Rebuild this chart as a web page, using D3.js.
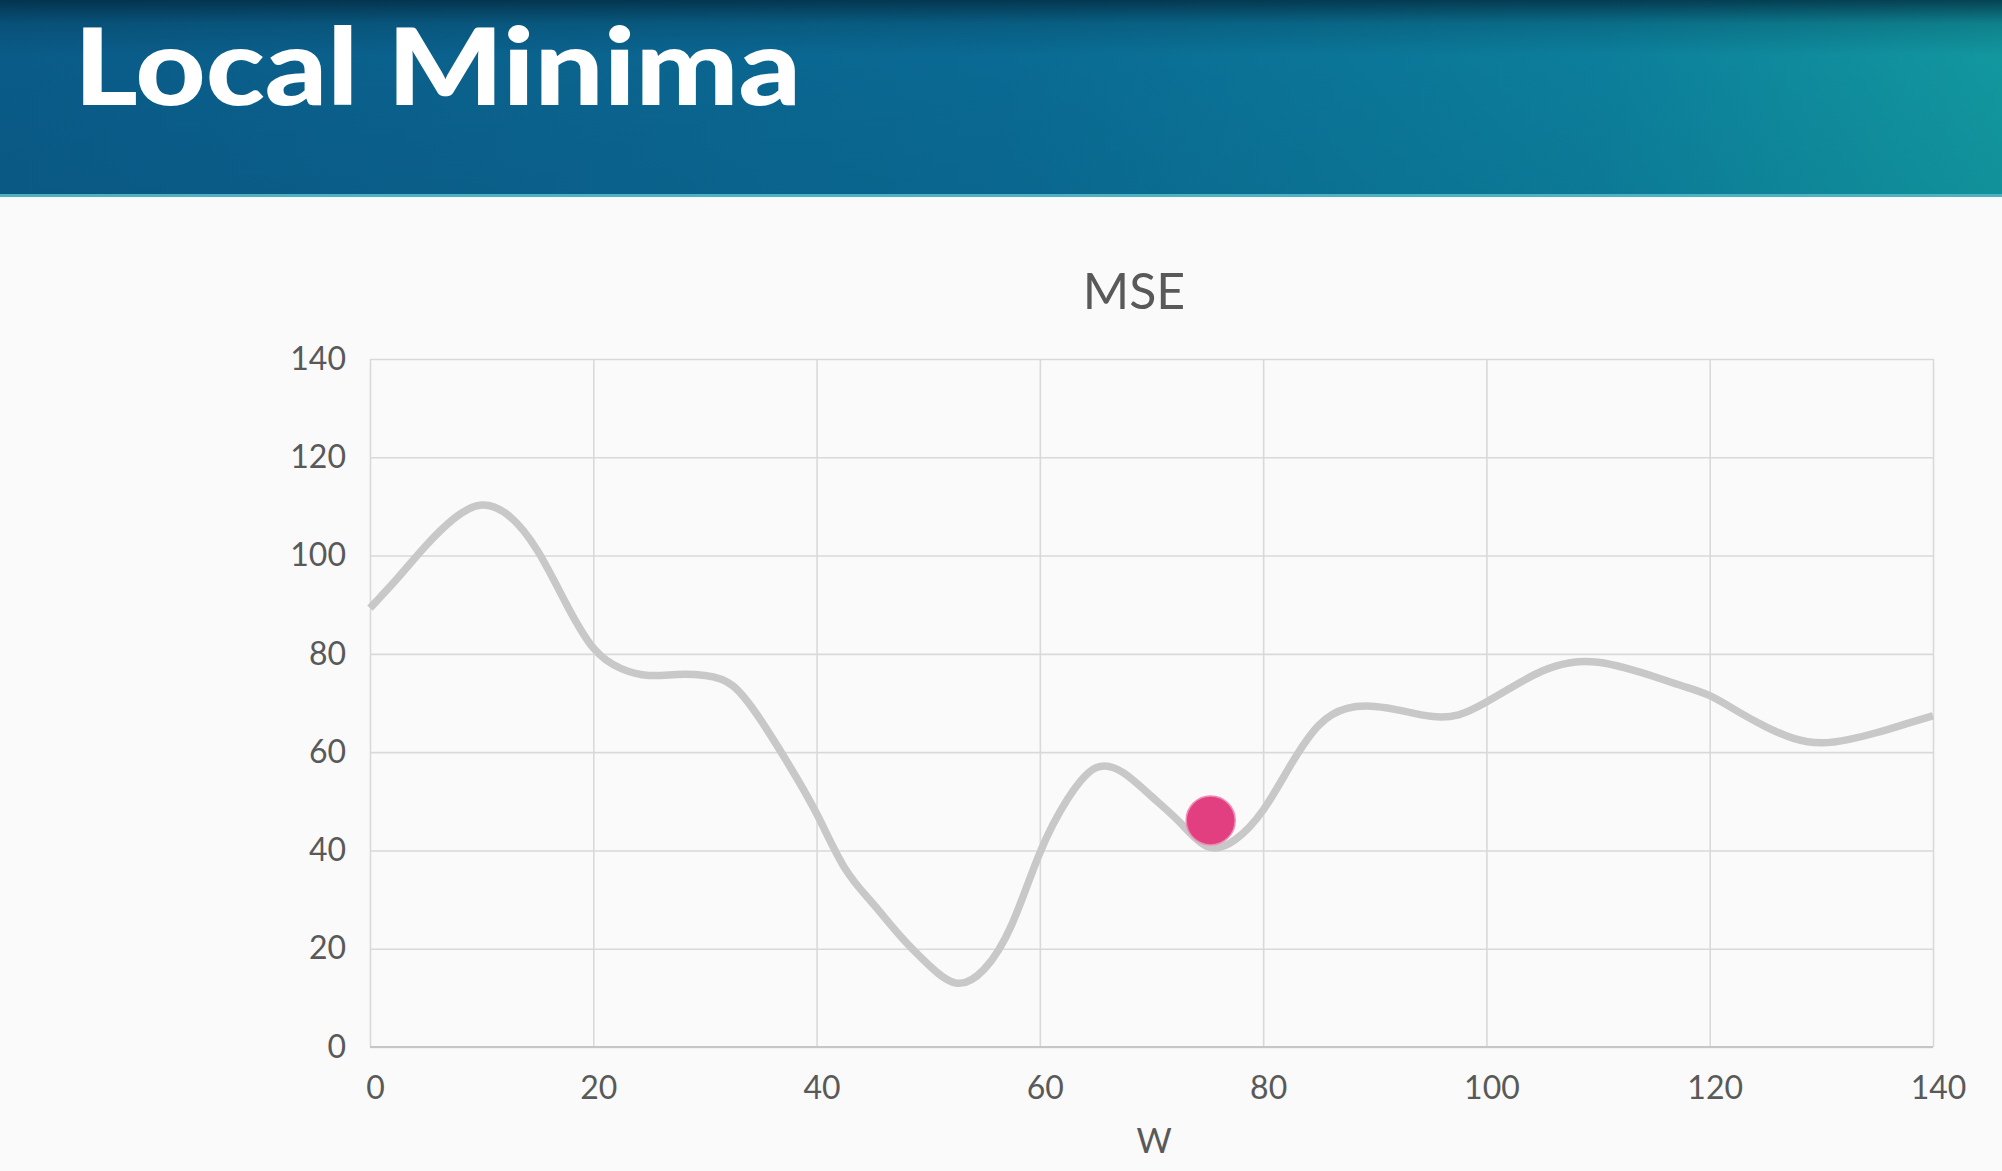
<!DOCTYPE html>
<html>
<head>
<meta charset="utf-8">
<script src="https://cdn.jsdelivr.net/npm/d3@7/dist/d3.min.js"></script>
<style>
  html, body { margin: 0; padding: 0; background: #fafafa; }
  svg { display: block; }
</style>
</head>
<body>
<svg id="chart" width="2002" height="1171"></svg>
<script>
// ---- data ----
const pageTitle = "Local Minima";
const chartTitle = "MSE";
const xAxisTitle = "W";
const wValues = [0, 2.5, 5, 7.5, 10, 12.5, 15, 17.5, 20, 22.5, 25, 27.5, 30, 32.5, 35, 37.5, 40, 42.5, 45, 47.5, 50, 52.5, 55, 57.5, 60, 62.5, 65, 67.5, 70, 72.5, 75, 77.5, 80, 82.5, 85, 87.5, 90, 92.5, 95, 97.5, 100, 102.5, 105, 107.5, 110, 112.5, 115, 117.5, 120, 122.5, 125, 127.5, 130, 132.5, 135, 137.5, 140];
const mseValues = [89.3, 95.5, 102, 107.5, 110.3, 108, 101, 90.5, 81.2, 77, 75.6, 75.8, 75.6, 73.5, 66.5, 57.5, 47.5, 36.5, 29.3, 22.6, 16.8, 13, 15.8, 25, 39.5, 50.5, 56.8, 55.8, 51, 45.8, 40.8, 42.2, 48.2, 57.5, 65.5, 68.9, 69.3, 68.4, 67.3, 67.6, 70.2, 73.5, 76.5, 78.2, 78.3, 77.1, 75.4, 73.5, 71.5, 68.3, 65.2, 62.8, 61.9, 62.6, 64, 65.7, 67.4];
const ballW = [75.3];
const ballMSE = [46.1];
const xTicks = [0, 20, 40, 60, 80, 100, 120, 140];
const yTicks = [0, 20, 40, 60, 80, 100, 120, 140];

// ---- layout ----
const svg = d3.select("#chart");
const W = 2002, H = 1171;
const plot = { left: 370, right: 1933, top: 359, bottom: 1047 };

const defs = svg.append("defs");
const hg = defs.append("linearGradient").attr("id", "hdr").attr("x1", "0").attr("x2", "1").attr("y1", "0").attr("y2", "0");
hg.append("stop").attr("offset", "0%").attr("stop-color", "#0a5b88");
hg.append("stop").attr("offset", "50%").attr("stop-color", "#0a6a93");
hg.append("stop").attr("offset", "80%").attr("stop-color", "#0c7e9b");
hg.append("stop").attr("offset", "100%").attr("stop-color", "#12979f");
const vg = defs.append("linearGradient").attr("id", "hdrTop").attr("x1", "0").attr("x2", "0").attr("y1", "0").attr("y2", "1");
vg.append("stop").attr("offset", "0%").attr("stop-color", "#02263a").attr("stop-opacity", 0.75);
vg.append("stop").attr("offset", "12%").attr("stop-color", "#02263a").attr("stop-opacity", 0.2);
vg.append("stop").attr("offset", "28%").attr("stop-color", "#02263a").attr("stop-opacity", 0);
vg.append("stop").attr("offset", "100%").attr("stop-color", "#02263a").attr("stop-opacity", 0.05);

svg.append("rect").attr("x", 0).attr("y", 0).attr("width", W).attr("height", H).attr("fill", "#fafafa");
svg.append("rect").attr("x", 0).attr("y", 0).attr("width", W).attr("height", 196).attr("fill", "url(#hdr)");
svg.append("rect").attr("x", 0).attr("y", 0).attr("width", W).attr("height", 196).attr("fill", "url(#hdrTop)");
svg.append("rect").attr("x", 0).attr("y", 194).attr("width", W).attr("height", 3).attr("fill", "#4db3c2");

svg.append("text")
  .attr("x", 74).attr("y", 105)
  .attr("font-family", "Lato, 'Open Sans', sans-serif")
  .attr("font-weight", 900)
  .attr("font-size", 106)
  .attr("textLength", 727)
  .attr("lengthAdjust", "spacingAndGlyphs")
  .attr("fill", "#ffffff")
  .text(pageTitle);

// ---- scales ----
const x = d3.scaleLinear().domain([0, 140]).range([plot.left, plot.right]);
const y = d3.scaleLinear().domain([0, 140]).range([plot.bottom, plot.top]);

const textColor = "#595959";
const fontFam = "Lato, 'Open Sans', sans-serif";

// gridlines
const gx = svg.append("g").attr("transform", `translate(0,${plot.bottom})`)
  .call(d3.axisBottom(x).tickValues(xTicks).tickSize(-(plot.bottom - plot.top)).tickFormat(""));
gx.select(".domain").remove();
gx.selectAll("line").attr("stroke", "#d9d9d9").attr("stroke-width", 1.6);

const gy = svg.append("g").attr("transform", `translate(${plot.left},0)`)
  .call(d3.axisLeft(y).tickValues(yTicks).tickSize(-(plot.right - plot.left)).tickFormat(""));
gy.select(".domain").remove();
gy.selectAll("line").attr("stroke", "#d9d9d9").attr("stroke-width", 1.6);

// bottom axis line
svg.append("line").attr("x1", plot.left).attr("x2", plot.right).attr("y1", plot.bottom).attr("y2", plot.bottom)
  .attr("stroke", "#c6c6c6").attr("stroke-width", 2);

// tick labels
const xl = svg.append("g").attr("transform", `translate(5,${plot.bottom})`)
  .call(d3.axisBottom(x).tickValues(xTicks).tickSize(0).tickPadding(29).tickFormat(d3.format("d")));
xl.select(".domain").remove();
xl.selectAll("text").attr("font-family", fontFam).attr("font-size", 32).attr("fill", textColor);

const yl = svg.append("g").attr("transform", `translate(${plot.left},0)`)
  .call(d3.axisLeft(y).tickValues(yTicks).tickSize(0).tickPadding(24).tickFormat(d3.format("d")));
yl.select(".domain").remove();
yl.selectAll("text").attr("font-family", fontFam).attr("font-size", 32).attr("fill", textColor);

// titles
svg.append("text").attr("x", 1134).attr("y", 309).attr("text-anchor", "middle")
  .attr("font-family", fontFam).attr("font-size", 50).attr("fill", textColor).text(chartTitle);
svg.append("text").attr("x", 1154).attr("y", 1153).attr("text-anchor", "middle")
  .attr("font-family", fontFam).attr("font-size", 34).attr("fill", textColor).text(xAxisTitle);

// curve
const pts = wValues.map((w, i) => [w, mseValues[i]]);
const line = d3.line().x(d => x(d[0])).y(d => y(d[1])).curve(d3.curveNatural);
svg.append("path").datum(pts).attr("d", line)
  .attr("fill", "none").attr("stroke", "#c8c8c8").attr("stroke-width", 7.5)
  .attr("stroke-linecap", "butt").attr("stroke-linejoin", "round");

// ball
svg.selectAll("circle.ball").data(ballW.map((w, i) => [w, ballMSE[i]])).enter()
  .append("circle").attr("class", "ball")
  .attr("cx", d => x(d[0])).attr("cy", d => y(d[1])).attr("r", 24.5)
  .attr("fill", "#e23f80").attr("stroke", "#f08ab4").attr("stroke-width", 1.5);
</script>
</body>
</html>
